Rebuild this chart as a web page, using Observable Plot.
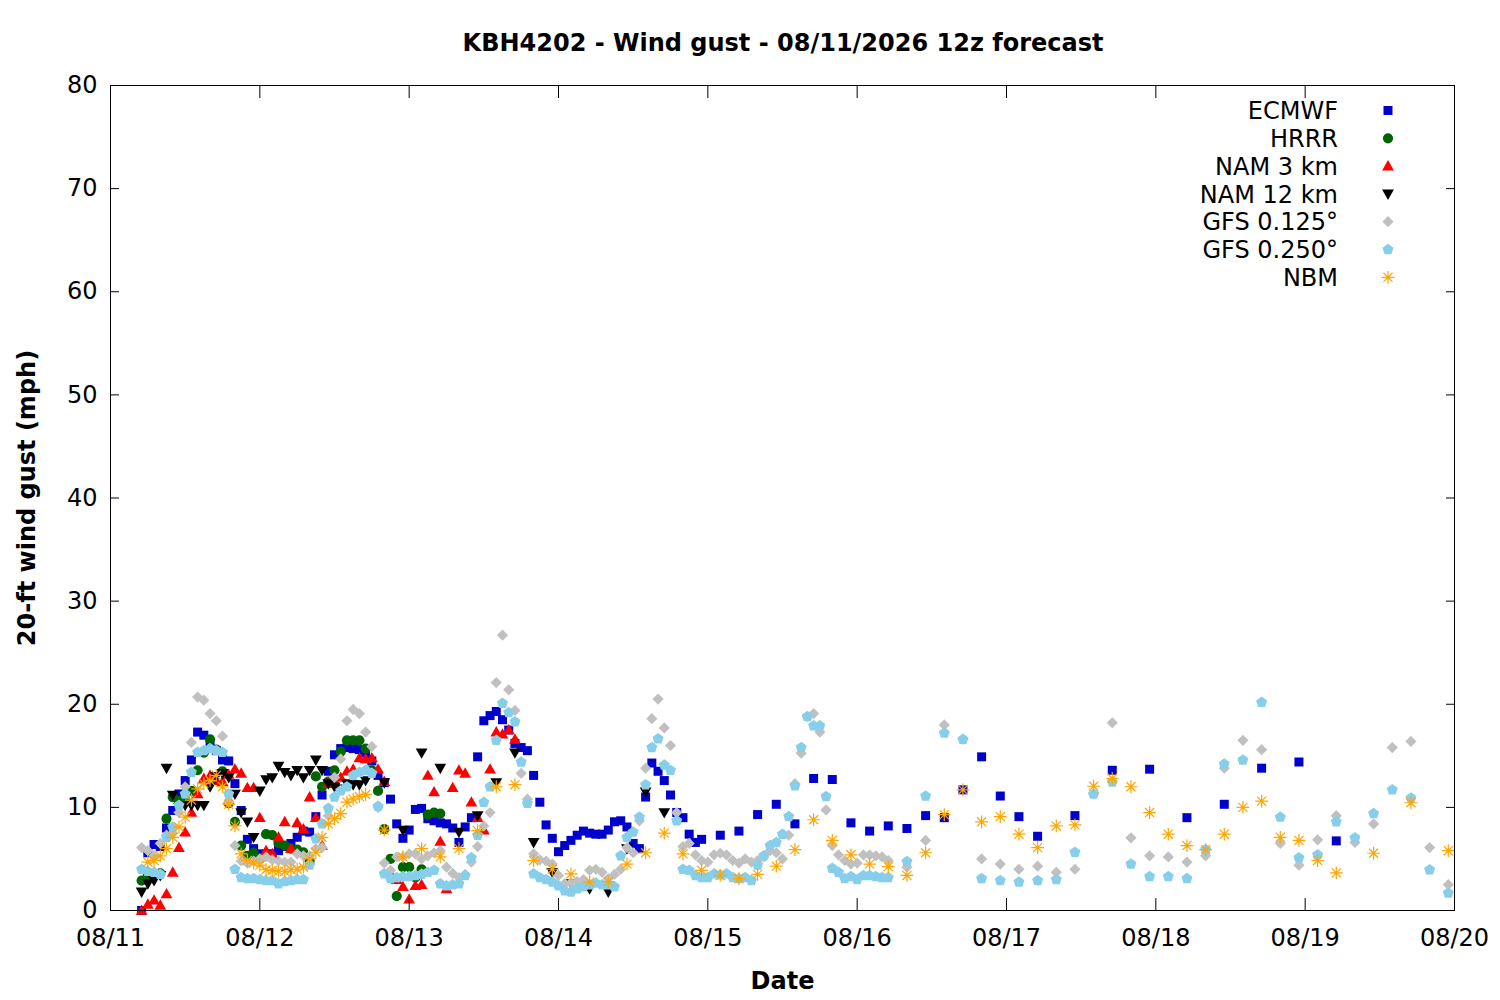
<!DOCTYPE html>
<html><head><meta charset="utf-8">
<script src="https://cdn.jsdelivr.net/npm/d3@7"></script>
<script src="https://cdn.jsdelivr.net/npm/@observablehq/plot@0.6"></script>
<style>
body{margin:0;background:#fff;}
#wrap{position:relative;width:1500px;height:1000px;font-family:"DejaVu Sans",sans-serif;background:#fff;}
#title{height:60px;position:relative;}
#title span{position:absolute;left:783px;top:29px;transform:translateX(-50%);font:bold 24px "DejaVu Sans";line-height:28px;white-space:nowrap;color:#000;}
#legend{position:absolute;left:0;top:0;pointer-events:none;}
</style></head>
<body>
<div id="wrap">
  <div id="title"><span>KBH4202 - Wind gust - 08/11/2026 12z forecast</span></div>
  <div id="chart"></div>
</div>
<script>
// ---------------- data (hours after 08/11 00:00) ----------------
const xTickDays = ["2026-08-11","2026-08-12","2026-08-13","2026-08-14","2026-08-15","2026-08-16","2026-08-17","2026-08-18","2026-08-19","2026-08-20"];
const yTicks = [0,10,20,30,40,50,60,70,80];

// ECMWF: hourly from hour 5, 3-hourly from 98, 6-hourly from 155
const ecmwfHourly = [0.0,5.6,6.4,6.2,8.0,9.7,11.3,12.6,14.6,17.3,17.0,16.0,15.5,14.6,14.5,12.3,9.7,6.9,6.0,5.5,
  5.3,5.5,5.8,6.2,6.5,7.1,7.7,7.6,9.1,11.2,13.5,15.1,15.7,15.8,15.7,15.6,15.3,14.5,13.1,12.4,
  10.8,8.4,7.0,7.8,9.8,9.9,8.9,8.7,8.5,8.4,8.0,6.6,8.1,9.0,14.9,18.4,18.9,19.3,18.5,17.5,
  16.2,15.8,15.5,13.1,10.5,8.3,7.0,5.7,6.3,6.8,7.3,7.7,7.5,7.4,7.4,7.8,8.6,8.7,8.1,6.5,
  6.0,11.0,14.3,13.5,12.6,11.2,9.5,9.0,7.4,6.6,6.9];
const ecmwf3h = [7.3,7.7,9.3,10.3,8.4,12.8,12.7,8.5,7.7,8.2,7.95,9.2,9.0,11.7,14.9,11.1,9.1,7.2];
const ecmwf6h = [9.2,13.6,13.7,9.0,10.3,13.8,14.4,6.75];

// HRRR: hourly from hour 5
const hrrrHourly = [2.9,3.4,3.5,3.6,8.9,11.0,10.6,10.8,11.6,13.6,15.3,16.6,15.6,13.5,10.4,8.6,6.3,5.3,5.6,5.0,
  7.4,7.3,6.5,6.3,6.0,5.9,5.65,4.8,13.0,12.0,12.5,13.6,15.4,16.5,16.5,16.5,15.7,13.6,11.6,7.9,
  5.0,1.4,4.2,4.2,3.2,4.0,9.3,9.5,9.4];

// NAM 3 km: hourly from hour 5
const nam3Hourly = [0.0,0.6,1.0,0.5,1.6,3.7,6.1,7.6,9.5,11.3,12.8,13.1,12.6,12.5,13.2,13.7,13.3,11.9,11.9,9.0,
  5.8,5.5,7.1,8.6,6.0,8.5,7.9,11.0,9.0,6.3,12.3,12.6,12.9,13.5,13.7,14.8,14.7,14.8,13.7,12.5,
  3.6,3.0,2.3,1.1,2.4,2.5,13.1,11.5,6.7,2.1,11.9,13.6,13.3,10.5,9.0,7.8,13.7,17.3,17.1,17.5,16.6];

// NAM 12 km: hourly from hour 5, 3-hourly from 44
const nam12Hourly = [1.8,2.6,2.9,3.4,13.8,11.2,10.0,10.2,10.2,10.2,10.2,12.0,13.0,13.3,12.9,11.3,9.5,8.6,7.1,11.6,
  12.7,12.9,14.0,13.4,13.1,13.6,12.9,13.6,14.6,13.6,12.3,12.0,11.8,12.3,12.2,12.2,12.6];
const nam12_3h = [12.4,7.8,15.3,13.8,7.6,9.2,12.4,15.3,6.6,3.7,2.6,2.1,1.8,6.0,11.5,9.5];

// GFS 0.125: hourly from hour 5, 3-hourly from 128
const gfs125Hourly = [6.1,5.8,5.3,6.5,7.3,7.5,9.5,12.0,16.3,20.7,20.4,19.1,18.4,16.9,10.5,6.3,4.8,4.6,4.8,5.0,
  5.2,4.9,4.8,4.7,4.7,5.5,5.3,5.3,6.0,6.1,9.2,12.9,14.7,18.4,19.5,19.1,17.3,15.9,10.0,4.6,
  3.9,5.2,5.2,5.5,5.5,5.0,5.3,5.6,5.8,4.2,3.6,3.2,3.5,4.7,6.2,8.2,9.5,22.1,26.7,21.4,
  19.4,13.3,10.8,5.5,4.9,4.8,4.5,3.4,2.6,2.7,2.8,3.0,3.9,4.0,3.7,3.1,3.5,4.0,6.1,5.6,
  8.7,13.8,18.6,20.5,17.7,16.0,9.5,6.2,6.5,5.4,4.85,4.7,5.4,5.55,5.4,4.85,4.6,5.0,4.7,4.85,
  5.2,5.8,5.6,5.0,7.3,12.3,15.25,18.8,19.1,17.3,9.75,6.3,5.4,4.85,4.5,4.6,5.4,5.4,5.3,5.2,4.85];
const gfs125_3h = [4.2,6.8,18.0,16.6,5.0,4.5,4.0,4.3,3.7,4.0,11.3,18.2,7.05,5.3,5.2,4.7,5.3,13.8,16.5,15.6,
  6.5,4.4,6.85,9.2,6.6,8.4,15.8,16.4,6.1,2.5];

// GFS 0.250: hourly from hour 5, 3-hourly from 128
const gfs250Hourly = [4.0,3.8,3.7,3.5,7.1,8.1,10.2,11.3,13.4,15.35,15.5,15.7,15.5,15.35,11.3,4.0,3.2,3.1,3.1,3.0,
  2.9,2.9,2.6,2.8,2.9,3.0,3.0,4.4,6.95,8.4,9.9,11.0,11.6,12.0,13.1,13.4,13.6,13.3,10.1,3.55,
  3.1,3.2,3.3,3.3,3.4,3.5,3.7,3.9,2.6,2.4,2.5,2.6,3.4,5.1,7.3,10.5,12.0,16.5,20.1,19.2,
  18.3,14.4,10.4,3.55,3.2,3.0,2.75,2.4,1.9,1.8,2.1,2.3,2.5,2.65,2.5,2.5,2.3,5.3,7.1,7.6,
  9.05,12.2,15.8,16.65,14.1,13.6,8.7,4.0,3.9,3.4,3.2,3.2,3.55,3.45,3.55,3.2,3.1,3.2,2.9,4.4,
  5.3,6.3,6.6,7.4,9.1,12.1,15.8,18.8,17.9,17.9,11.05,4.1,3.7,3.1,3.3,3.0,3.4,3.4,3.3,3.2,3.2];
const gfs250_3h = [4.75,11.1,17.2,16.6,3.1,2.9,2.75,2.9,3.0,5.65,11.3,12.45,4.5,3.3,3.3,3.1,5.9,14.2,14.6,20.2,
  9.05,5.1,5.4,8.6,7.05,9.4,11.7,10.9,3.95,1.7];

// NBM: hourly from hour 6, 3-hourly from 44, 6-hourly from 203
const nbmHourly = [4.7,4.85,5.3,6.0,7.1,8.1,9.05,10.7,11.8,12.3,12.6,13.1,12.0,10.3,8.2,5.5,4.85,4.6,4.4,3.95,
  3.9,3.8,3.8,3.95,4.0,4.2,5.0,5.65,7.1,8.4,8.9,9.4,10.5,10.8,11.05,11.25];
const nbm3h = [7.8,5.2,6.0,5.2,6.0,7.75,12.0,12.2,4.85,4.0,3.55,2.75,2.8,4.5,5.6,7.5,5.5,3.9,3.4,3.1,
  3.5,4.3,5.9,8.8,6.8,5.4,4.5,4.25,3.4,5.6,9.3,11.7,8.6,9.1,7.4,6.1,8.2,8.3,12.05,12.8,
  12.0,9.5,7.4,6.3,5.9,7.4,10.0,10.6,7.1,6.8,4.85,3.65];
const nbm6h = [5.55,10.45,5.8];

// ---------------- build rows ----------------
const HOUR = 3600 * 1000;
const t0 = Date.UTC(2026, 7, 11);
const seg = (start, step, values) => values.map((v, i) => ({time: new Date(t0 + (start + i * step) * HOUR), value: v}));

const ecmwf = [...seg(5,1,ecmwfHourly), ...seg(98,3,ecmwf3h), ...seg(155,6,ecmwf6h)];
const hrrr = seg(5,1,hrrrHourly);
const nam3 = seg(5,1,nam3Hourly);
const nam12 = [...seg(5,1,nam12Hourly), ...seg(44,3,nam12_3h)];
const gfs125 = [...seg(5,1,gfs125Hourly), ...seg(128,3,gfs125_3h)];
const gfs250 = [...seg(5,1,gfs250Hourly), ...seg(128,3,gfs250_3h)];
const nbm = [...seg(6,1,nbmHourly), ...seg(44,3,nbm3h), ...seg(203,6,nbm6h)];

// ---------------- symbols ----------------
const mk = (fn) => ({draw(c, size) { fn(c, Math.sqrt(size / Math.PI)); }});
const symSquare = mk((c, r) => { c.moveTo(-r,-r); c.lineTo(r,-r); c.lineTo(r,r); c.lineTo(-r,r); c.closePath(); });
const symCircle = mk((c, r) => { c.moveTo(r,0); c.arc(0,0,r,0,2*Math.PI); c.closePath(); });
const symTriUp = mk((c, r) => { c.moveTo(0,-r); c.lineTo(r*0.98, r*0.72); c.lineTo(-r*0.98, r*0.72); c.closePath(); });
const symTriDown = mk((c, r) => { c.moveTo(0,r); c.lineTo(r*0.98,-r*0.72); c.lineTo(-r*0.98,-r*0.72); c.closePath(); });
const symDiamond = mk((c, r) => { c.moveTo(0,-r); c.lineTo(r,0); c.lineTo(0,r); c.lineTo(-r,0); c.closePath(); });
const symPentagon = mk((c, r) => { for (let k = 0; k < 5; k++) { const a = -Math.PI/2 + k*2*Math.PI/5; const x = r*Math.cos(a), y = r*Math.sin(a); k ? c.lineTo(x,y) : c.moveTo(x,y); } c.closePath(); });
const symAster = mk((c, r) => { const d = r*0.7071; c.moveTo(-r,0); c.lineTo(r,0); c.moveTo(0,-r); c.lineTo(0,r); c.moveTo(-d,-d); c.lineTo(d,d); c.moveTo(-d,d); c.lineTo(d,-d); });

const models = [
  {name: "ECMWF", data: ecmwf, symbol: symSquare, r: 4.5, fill: "#0000cd", stroke: "none"},
  {name: "HRRR", data: hrrr, symbol: symCircle, r: 5.1, fill: "#006400", stroke: "none"},
  {name: "NAM 3 km", data: nam3, symbol: symTriUp, r: 6.0, fill: "#ff0000", stroke: "none"},
  {name: "NAM 12 km", data: nam12, symbol: symTriDown, r: 6.0, fill: "#000000", stroke: "none"},
  {name: "GFS 0.125°", data: gfs125, symbol: symDiamond, r: 5.6, fill: "#c0c0c0", stroke: "none"},
  {name: "GFS 0.250°", data: gfs250, symbol: symPentagon, r: 5.8, fill: "#87ceeb", stroke: "none"},
  {name: "NBM", data: nbm, symbol: symAster, r: 6.4, fill: "none", stroke: "#ffa500"}
];

const dayTicks = xTickDays.map(s => new Date(s + "T00:00:00Z"));
const fmt = d3.utcFormat("%m/%d");

const chart = Plot.plot({
  width: 1500,
  height: 940,
  marginTop: 25,
  marginBottom: 90,
  marginLeft: 110,
  marginRight: 46,
  style: {fontFamily: '"DejaVu Sans", sans-serif', fontSize: "24px", color: "#000", background: "#fff", overflow: "visible"},
  x: {type: "utc", domain: [dayTicks[0], dayTicks[dayTicks.length - 1]], label: null},
  y: {domain: [0, 80], label: null},
  marks: [
    ...models.map(m => Plot.dot(m.data, {x: "time", y: "value", symbol: m.symbol, r: m.r, fill: m.fill, stroke: m.stroke, strokeWidth: 1.2})),
    Plot.frame({stroke: "#000", strokeWidth: 1}),
    Plot.axisX({ticks: dayTicks, anchor: "bottom", tickSize: 0, tickPadding: 18, tickFormat: fmt, label: null, fontSize: 24}),
    Plot.axisX({ticks: dayTicks, anchor: "bottom", tickSize: 12, dy: -12, tickFormat: () => "", label: null}),
    Plot.axisX({ticks: dayTicks, anchor: "top", tickSize: 12, dy: 12, tickFormat: () => "", label: null}),
    Plot.axisY({ticks: yTicks, anchor: "left", tickSize: 0, tickPadding: 13, tickFormat: d => String(d), label: null, fontSize: 24}),
    Plot.axisY({ticks: yTicks, anchor: "left", tickSize: 9, dx: 9, tickFormat: () => "", label: null}),
    Plot.axisY({ticks: yTicks, anchor: "right", tickSize: 9, dx: -9, tickFormat: () => "", label: null}),
    Plot.text(["Date"], {text: d => d, frameAnchor: "bottom", dy: 78, fontWeight: "bold", fontSize: 24}),
    Plot.text(["20-ft wind gust (mph)"], {text: d => d, frameAnchor: "left", textAnchor: "middle", dx: -83, rotate: -90, fontWeight: "bold", fontSize: 24})
  ]
});
document.getElementById("chart").appendChild(chart);

// ---------------- legend (overlay) ----------------
const legend = d3.select("#wrap").append("svg")
  .attr("id", "legend").attr("width", 1500).attr("height", 320);
models.forEach((m, i) => {
  const cy = 110.5 + i * 27.8;
  legend.append("text").attr("x", 1338).attr("y", cy + 8.6)
    .attr("text-anchor", "end").attr("font-family", '"DejaVu Sans", sans-serif')
    .attr("font-size", 24).attr("fill", "#000").text(m.name);
  const p = d3.path();
  m.symbol.draw(p, m.r * m.r * Math.PI);
  legend.append("path").attr("d", p.toString()).attr("transform", `translate(1388,${cy})`)
    .attr("fill", m.fill).attr("stroke", m.stroke).attr("stroke-width", 1.2);
});
</script>
</body></html>
